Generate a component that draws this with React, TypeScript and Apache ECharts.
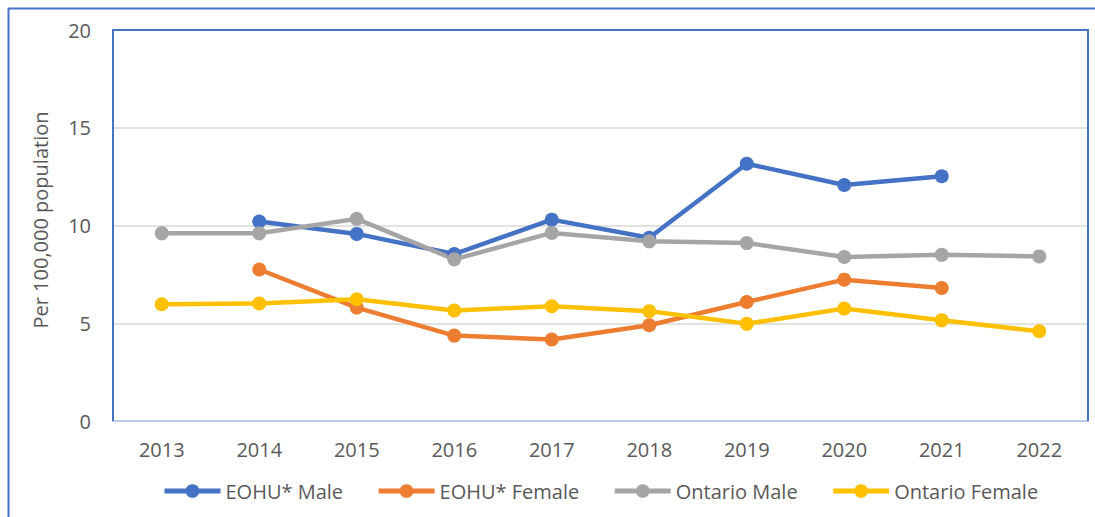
import React, { useEffect, useRef } from "react";
import * as echarts from "echarts";

const years = ["2013", "2014", "2015", "2016", "2017", "2018", "2019", "2020", "2021", "2022"];
const eohuMale = [null, 10.2, 9.57, 8.54, 10.3, 9.37, 13.16, 12.07, 12.52, null];
const eohuFemale = [null, 7.75, 5.8, 4.37, 4.17, 4.9, 6.09, 7.23, 6.8, null];
const ontarioMale = [9.6, 9.6, 10.34, 8.27, 9.62, 9.19, 9.1, 8.39, 8.5, 8.42];
const ontarioFemale = [5.97, 6.01, 6.23, 5.65, 5.87, 5.62, 4.97, 5.75, 5.15, 4.59];
const seriesNames = ["EOHU* Male", "EOHU* Female", "Ontario Male", "Ontario Female"];
const seriesColors = ["#4472C4", "#ED7D31", "#A5A5A5", "#FFC000"];
const yTicks = { min: 0, max: 20, interval: 5 };
const yAxisTitle = "Per 100,000 population";

const FONT = "'Open Sans', sans-serif";
const TEXT = "#595959";
const BORDER = "#4472C4";

export default function App() {
  const ref = useRef<HTMLDivElement>(null);
  useEffect(() => {
    if (!ref.current) return;
    const chart = echarts.init(ref.current, undefined, { renderer: "svg" });
    const data = [eohuMale, eohuFemale, ontarioMale, ontarioFemale];
    chart.setOption({
      animation: false,
      backgroundColor: "#fff",
      textStyle: { fontFamily: FONT },
      grid: {
        left: 113,
        top: 30,
        right: 7,
        bottom: 96,
        show: false,
      },
      graphic: [
        { type: "line", shape: { x1: 8.5, y1: 8, x2: 8.5, y2: 517 }, style: { stroke: BORDER, lineWidth: 2 } },
        { type: "line", shape: { x1: 8, y1: 8.5, x2: 1095, y2: 8.5 }, style: { stroke: BORDER, lineWidth: 2 } },
        {
          type: "polyline",
          z: 10,
          shape: { points: [[113, 421], [113, 30], [1088, 30], [1088, 421]] },
          style: { stroke: BORDER, lineWidth: 2, fill: null },
        },
        {
          type: "text",
          x: 40,
          y: 220,
          rotation: Math.PI / 2,
          style: {
            text: yAxisTitle,
            fill: TEXT,
            fontSize: 20,
            fontFamily: FONT,
            align: "center",
            verticalAlign: "middle",
          },
        },
      ],
      legend: {
        left: 162,
        top: 481,
        padding: 0,
        itemWidth: 56,
        itemHeight: 17,
        itemGap: 33,
        lineStyle: { width: 5 },
        textStyle: { color: TEXT, fontSize: 20, fontFamily: FONT },
        data: seriesNames,
      },
      xAxis: {
        type: "category",
        data: years,
        boundaryGap: true,
        axisLine: { lineStyle: { color: "#BCCAE3", width: 2 } },
        axisTick: { show: false },
        axisLabel: { color: TEXT, fontSize: 20, margin: 18, fontFamily: FONT },
      },
      yAxis: {
        type: "value",
        min: yTicks.min,
        max: yTicks.max,
        interval: yTicks.interval,
        axisLine: { show: false },
        axisTick: { show: false },
        axisLabel: { color: TEXT, fontSize: 20, margin: 22, fontFamily: FONT },
        splitLine: { lineStyle: { color: "#D9D9D9", width: 1.5 } },
      },
      series: seriesNames.map((name, i) => ({
        name,
        type: "line",
        data: data[i],
        symbol: "circle",
        symbolSize: 14,
        color: seriesColors[i],
        lineStyle: { width: 4.5, color: seriesColors[i] },
        itemStyle: { color: seriesColors[i] },
        connectNulls: false,
      })),
    });
    return () => chart.dispose();
  }, []);
  return <div ref={ref} style={{ position: "fixed", left: 0, top: 0, width: 1095, height: 517 }} />;
}
